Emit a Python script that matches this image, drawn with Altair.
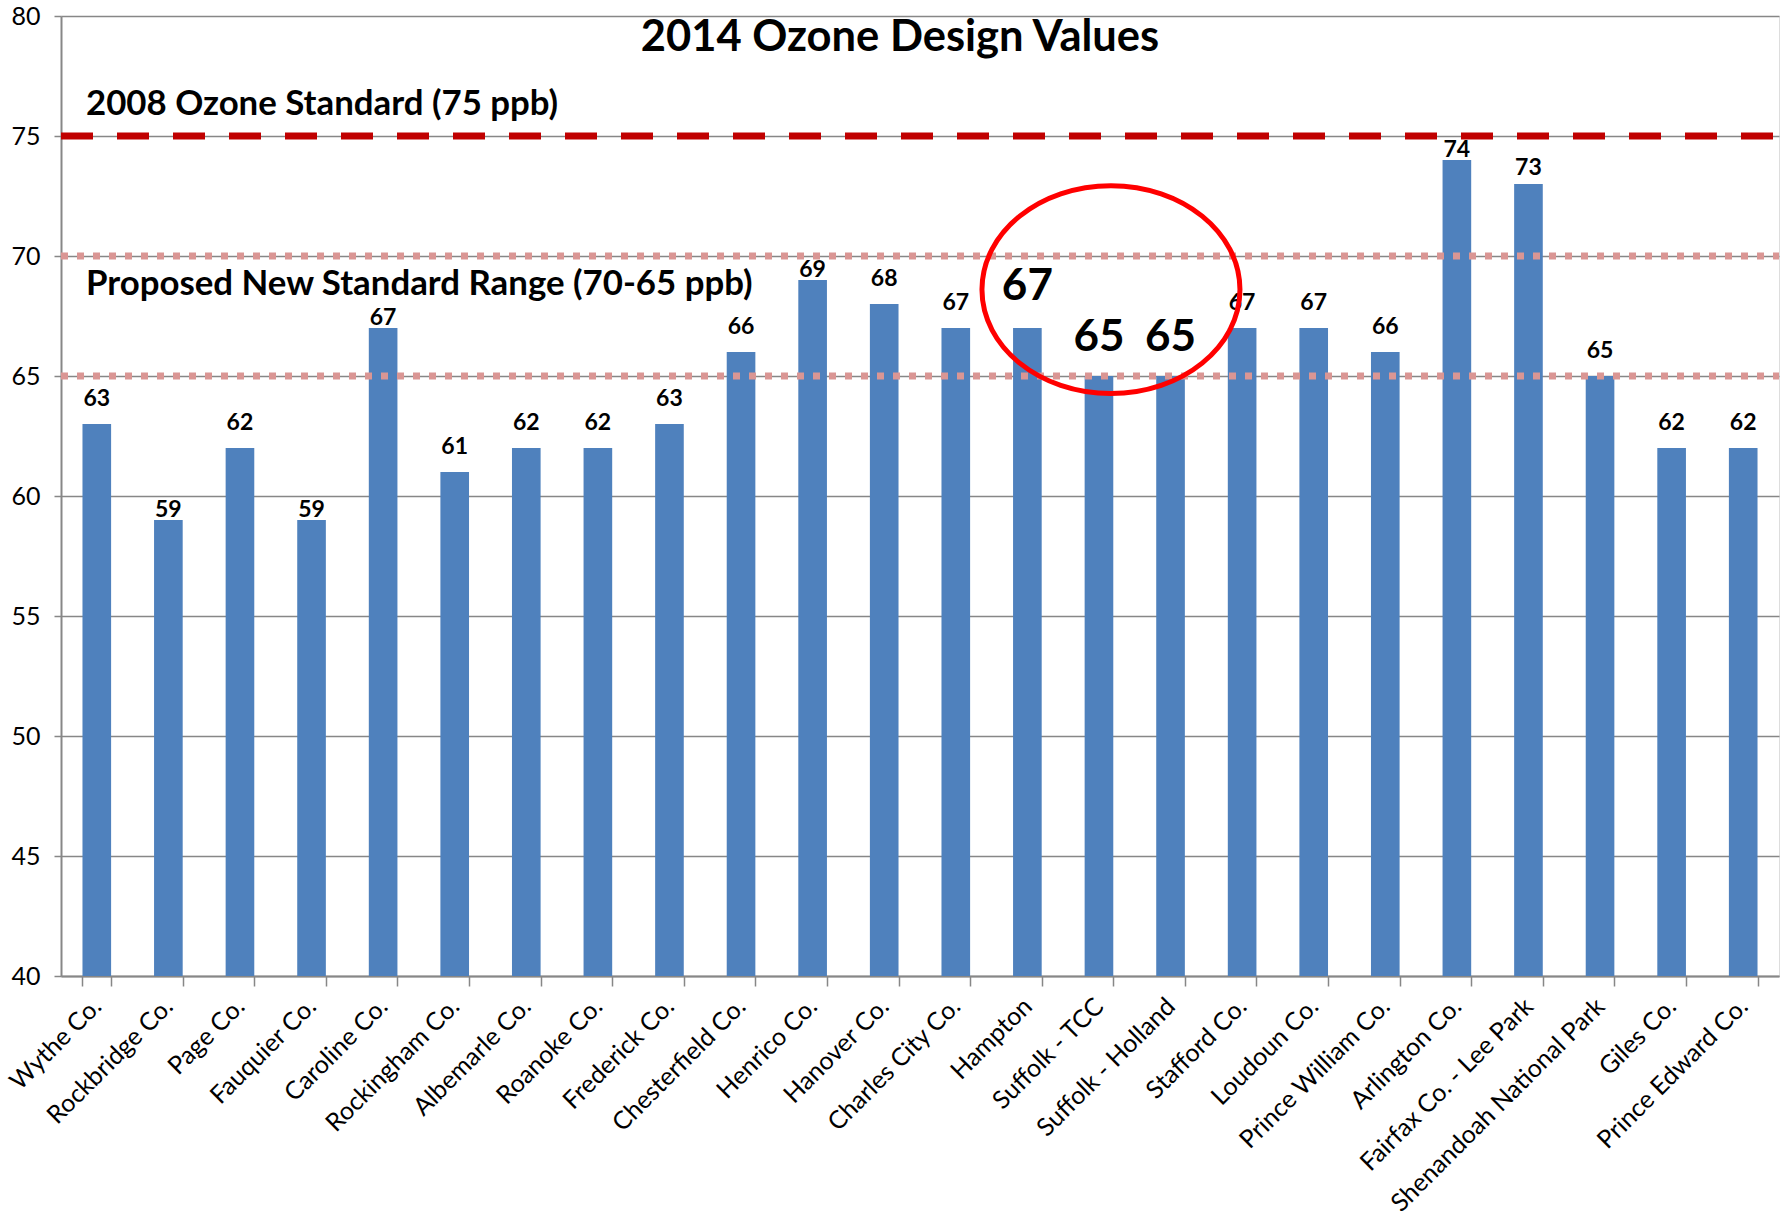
import altair as alt
import pandas as pd

sites = ["Wythe Co.", "Rockbridge Co.", "Page Co.", "Fauquier Co.", "Caroline Co.",
         "Rockingham Co.", "Albemarle Co.", "Roanoke Co.", "Frederick Co.", "Chesterfield Co.",
         "Henrico Co.", "Hanover Co.", "Charles City Co.", "Hampton", "Suffolk - TCC",
         "Suffolk - Holland", "Stafford Co.", "Loudoun Co.", "Prince William Co.", "Arlington Co.",
         "Fairfax Co. - Lee Park", "Shenandoah National Park", "Giles Co.", "Prince Edward Co."]
values = [63, 59, 62, 59, 67, 61, 62, 62, 63, 66, 69, 68, 67, 67, 65, 65, 67, 67, 66, 74, 73, 65, 62, 62]

highlight_sites = ["Hampton", "Suffolk - TCC", "Suffolk - Holland"]
highlight_label_y = [68.7, 66.6, 66.6]

current_standard = 75
proposed_range = [70, 65]

# label placement groups (style only): labels sitting close to their bar
close_label_sites = ["Rockbridge Co.", "Fauquier Co.", "Caroline Co.", "Henrico Co.", "Arlington Co."]
mid_label_sites = ["Fairfax Co. - Lee Park"]

FONT = "Lato"
W, H = 1718, 960

df = pd.DataFrame({"site": sites, "value": values})
df_small = df[~df["site"].isin(highlight_sites)]
df_far = df_small[~df_small["site"].isin(close_label_sites + mid_label_sites)]
df_close = df_small[df_small["site"].isin(close_label_sites)]
df_mid = df_small[df_small["site"].isin(mid_label_sites)]
df_big = pd.DataFrame({"site": highlight_sites,
                       "value": [values[sites.index(s)] for s in highlight_sites],
                       "ly": highlight_label_y})

xscale = alt.Scale(domain=sites, paddingInner=0.6, paddingOuter=0.3)
yscale = alt.Scale(domain=[40, 80], nice=False, zero=False)

x_enc = alt.X("site:N", scale=xscale, sort=sites, title=None,
              axis=alt.Axis(labelAngle=315, labelFont=FONT,
                            labelFontSize=25, labelColor="#000000", labelPadding=16,
                            labelLimit=600,
                            tickBand="extent", tickSize=10, tickColor="#878787",
                            tickWidth=1.5, domainColor="#878787", domainWidth=2,
                            labelAlign="right", labelBaseline="middle", labelOverlap=False))
y_enc = alt.Y("value:Q", scale=yscale, title=None,
              axis=alt.Axis(values=[40, 45, 50, 55, 60, 65, 70, 75, 80], labelFont=FONT,
                            labelFontSize=25, labelColor="#000000", labelPadding=14,
                            tickSize=7, tickColor="#878787", tickWidth=1.5,
                            domainColor="#878787", domainWidth=2,
                            gridColor="#878787", gridWidth=1.5))

bars = alt.Chart(df).mark_bar(color="#4F81BD", clip=True).encode(
    x=x_enc, y=y_enc, y2=alt.datum(40))

rule75 = alt.Chart(pd.DataFrame({"lvl": [current_standard]})).mark_rule(
    color="#C00000", strokeWidth=7, strokeDash=[32, 24]).encode(
    y=alt.Y("lvl:Q", scale=yscale), x=alt.value(0), x2=alt.value(W))
rule_prop = alt.Chart(pd.DataFrame({"lvl": proposed_range})).mark_rule(
    color="#DA9694", strokeWidth=7, strokeDash=[7, 9]).encode(
    y=alt.Y("lvl:Q", scale=yscale), x=alt.value(0), x2=alt.value(W))


def value_labels(data, gap):
    return alt.Chart(data).mark_text(
        font=FONT, fontSize=23, fontWeight="bold", baseline="alphabetic", dy=-gap,
        color="#000000"
    ).encode(x=alt.X("site:N", scale=xscale, sort=sites),
             y=alt.Y("value:Q", scale=yscale), text="value:Q")


labels_far = value_labels(df_far, 18)
labels_close = value_labels(df_close, 3)
labels_mid = value_labels(df_mid, 9)

big_labels = alt.Chart(df_big).mark_text(
    font=FONT, fontSize=44, fontWeight="bold", baseline="middle", color="#000000"
).encode(x=alt.X("site:N", scale=xscale, sort=sites),
         y=alt.Y("ly:Q", scale=yscale), text="value:Q")

ellipse = alt.Chart(pd.DataFrame({"site": ["Suffolk - TCC"], "cy": [68.6]})).mark_point(
    shape="M -1 0 A 1 0.806 0 1 1 1 0 A 1 0.806 0 1 1 -1 0 Z",
    filled=False, stroke="#FF0000", strokeWidth=5, size=258 * 258, opacity=1, xOffset=12
).encode(x=alt.X("site:N", scale=xscale, sort=sites), y=alt.Y("cy:Q", scale=yscale))

ann = pd.DataFrame({
    "text": ["2014 Ozone Design Values", "2008 Ozone Standard (75 ppb)",
             "Proposed New Standard Range (70-65 ppb)"],
    "ty": [79.08, 76.3, 68.8],
})
title_t = alt.Chart(ann.iloc[[0]]).mark_text(
    font=FONT, fontSize=43.5, fontWeight="bold", align="center", baseline="middle", color="#000000"
).encode(x=alt.value(839), y=alt.Y("ty:Q", scale=yscale), text="text:N")
std_t = alt.Chart(ann.iloc[[1, 2]]).mark_text(
    font=FONT, fontSize=34.8, fontWeight="bold", align="left", baseline="middle", color="#000000"
).encode(x=alt.value(25), y=alt.Y("ty:Q", scale=yscale), text="text:N")

chart = alt.layer(bars, rule75, rule_prop, labels_far, labels_close, labels_mid,
                  big_labels, ellipse, title_t, std_t).properties(
    width=W, height=H,
    autosize=alt.AutoSizeParams(type="none"),
    padding={"left": 61, "top": 16, "right": 6, "bottom": 242},
).configure_view(stroke=None).configure(background="#FFFFFF")

chart.save("out.html", embed_options={"renderer": "svg", "actions": False})
